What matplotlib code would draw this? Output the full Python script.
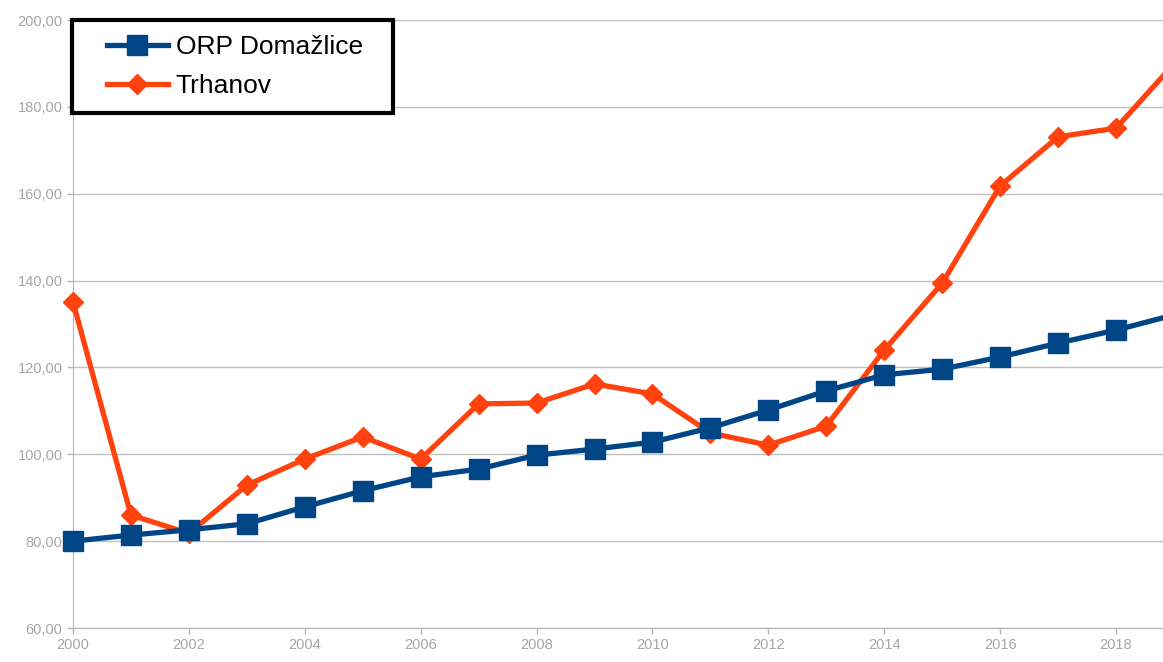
import matplotlib
matplotlib.use("Agg")
import matplotlib.pyplot as plt
from matplotlib.ticker import FuncFormatter, MultipleLocator
from matplotlib.legend_handler import HandlerLine2D

years = list(range(2000, 2020))
orp = [80.0, 81.4, 82.6, 84.0, 87.9, 91.6, 94.8, 96.6, 99.8, 101.2,
       102.8, 106.1, 110.2, 114.6, 118.3, 119.6, 122.4, 125.6, 128.6, 132.1]
trhanov = [135.1, 86.0, 81.8, 92.9, 98.9, 104.0, 98.9, 111.6, 111.8, 116.2,
           113.9, 104.9, 102.1, 106.5, 124.0, 139.4, 161.8, 173.1, 175.1, 189.9]
series_names = ["ORP Domažlice", "Trhanov"]

plt.rcParams['font.family'] = ['Liberation Sans', 'DejaVu Sans']

W, H = 1163, 662
fig = plt.figure(figsize=(W / 100, H / 100), dpi=100)
left, right_at_2019 = 73, 1174
top, bottom = 20, 628
axw = right_at_2019 - left
ax = fig.add_axes([left / W, (H - bottom) / H, axw / W, (bottom - top) / H])

blue = '#004586'
orange = '#ff420e'
l1, = ax.plot(years, orp, color=blue, lw=3.8, marker='s', ms=14, label=series_names[0], zorder=4, clip_on=False)
l2, = ax.plot(years, trhanov, color=orange, lw=3.8, marker='D', ms=10, label=series_names[1], zorder=3, clip_on=False)

ax.set_xlim(2000, 2019)
ax.set_ylim(60, 200)
ax.xaxis.set_major_locator(MultipleLocator(2))
ax.yaxis.set_major_locator(MultipleLocator(20))
ax.yaxis.set_major_formatter(FuncFormatter(lambda v, p: f"{v:.2f}".replace('.', ',')))
ax.grid(axis='y', color='#c0c0c0', lw=1)
ax.set_axisbelow(True)
for s in ['top', 'right']:
    ax.spines[s].set_visible(False)
for s in ['left', 'bottom']:
    ax.spines[s].set_color('#b3b3b3')
ax.tick_params(colors='#b3b3b3', labelcolor='#a6a6a6', labelsize=10.5, length=4, width=1)

hm = {l1: HandlerLine2D(xpad=0.76), l2: HandlerLine2D(xpad=0.76)}
leg = ax.legend(handles=[l1, l2], handler_map=hm, loc='upper left',
                bbox_to_anchor=(-0.001, 1.0, 321 / axw, 0.0), mode='expand',
                fontsize=19, frameon=True, fancybox=False, edgecolor='black',
                borderpad=0.58, handlelength=3.05, handletextpad=0.3, labelspacing=0.55,
                borderaxespad=0.0)
leg.get_frame().set_linewidth(3)
leg.get_frame().set_facecolor('white')
leg.get_frame().set_alpha(1)
leg.set_zorder(10)

fig.savefig('out.png', dpi=100)
